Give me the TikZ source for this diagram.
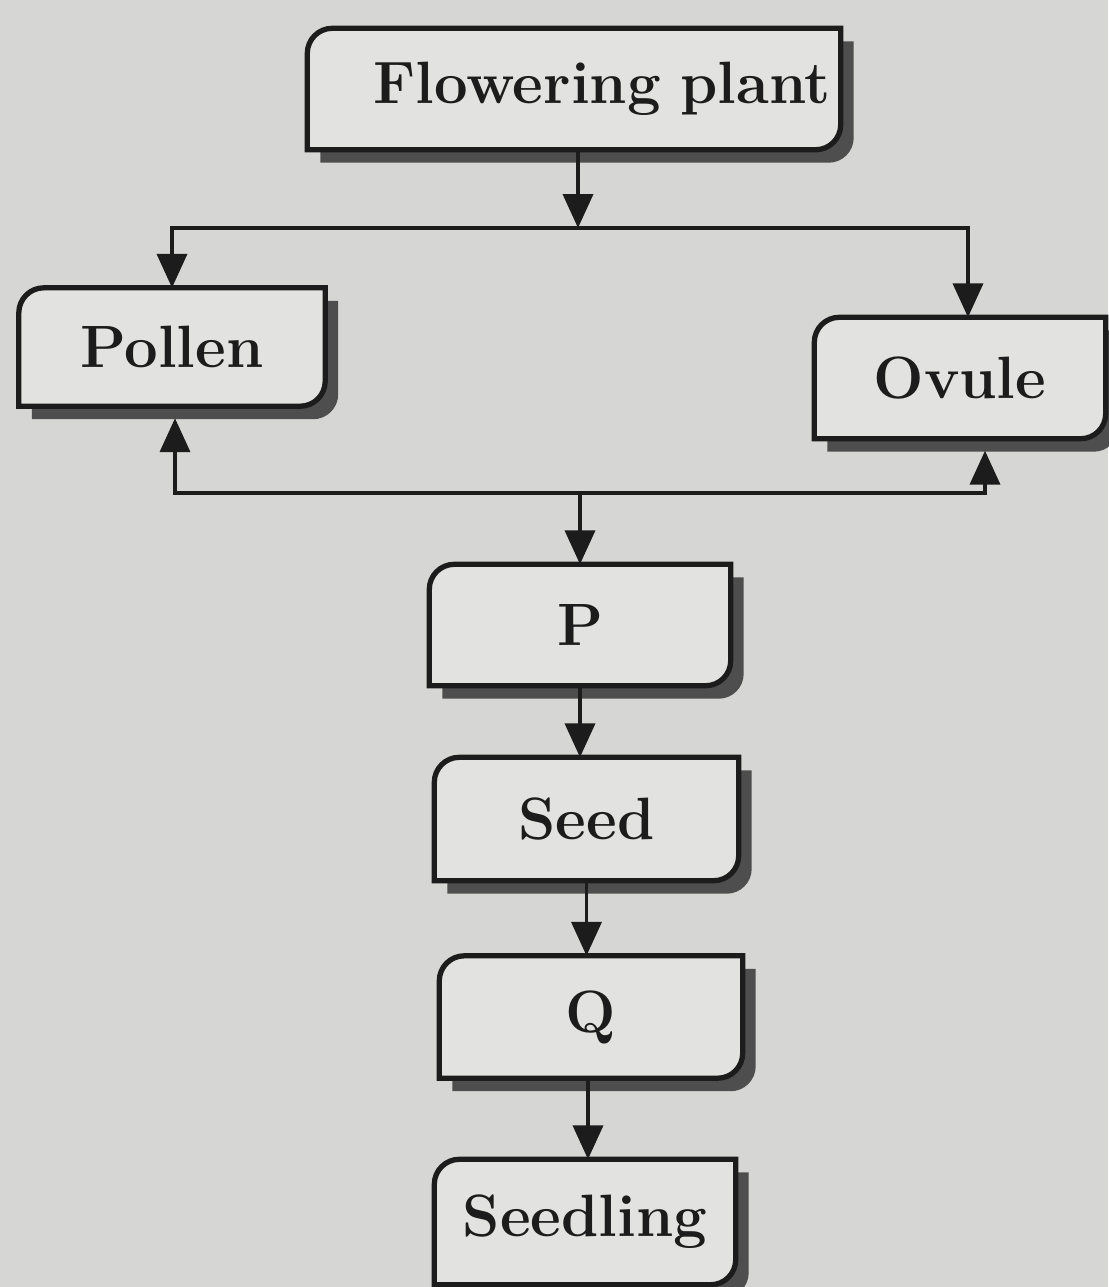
\documentclass[tikz,border=0pt]{standalone}
\usepackage{fontspec}
\usetikzlibrary{arrows.meta,backgrounds}
\definecolor{paper}{RGB}{214,214,212}
\definecolor{boxfill}{RGB}{226,226,224}
\definecolor{ink}{RGB}{28,28,28}
\definecolor{shadowgrey}{RGB}{78,78,78}
% box outline: rounded top left and bottom right corners, shifted by (#2,#3)
\newcommand\stageshape[3]{([shift={(#2,#3)}]#1.south west) -- ([shift={(#2,#3-0.25)}]#1.north west) arc[start angle=180,end angle=90,radius=0.25cm] -- ([shift={(#2,#3)}]#1.north east) -- ([shift={(#2,#3+0.25)}]#1.south east) arc[start angle=0,end angle=-90,radius=0.25cm] -- cycle}
\tikzset{
  stage/.style={inner sep=0pt, minimum height=1.2cm, text=ink, font=\fontsize{17}{20}\selectfont\bfseries},
  flow/.style={draw=ink, line width=1.1pt, -{Triangle[length=0.34cm,width=0.30cm]}},
  frame/.style={draw=ink, fill=boxfill, line width=1.5pt},
}
\begin{document}
\begin{tikzpicture}
\useasboundingbox (0,0) rectangle (11.08,-12.87);
% stages
\node[stage, minimum width=5.32cm, text width=5.14cm, align=right, inner xsep=0.09cm] (flower) at (5.74,-0.89) {Flowering plant};
\node[stage, minimum width=3.05cm, minimum height=1.17cm] (pollen) at (1.72,-3.47) {Pollen};
\node[stage, minimum width=2.90cm] (ovule) at (9.60,-3.78) {Ovule};
\node[stage, minimum width=3.00cm] (p) at (5.80,-6.25) {P};
\node[stage, minimum width=3.03cm, minimum height=1.22cm] (seed) at (5.865,-8.19) {Seed};
\node[stage, minimum width=3.02cm, minimum height=1.21cm] (q) at (5.91,-10.17) {Q};
\node[stage, minimum width=3.00cm, minimum height=1.24cm] (seedling) at (5.85,-12.22) {Seedling};
% frames and shadows
\begin{scope}[on background layer]
\fill[paper] (0,0) rectangle (11.08,-12.87);
\foreach \n in {flower,pollen,ovule,p,seed,q,seedling}{
  \fill[shadowgrey] \stageshape{\n}{0.13}{-0.13};
  \draw[frame] \stageshape{\n}{0}{0};
}
\end{scope}
% connectors
\coordinate (split) at (5.78,-2.28);
\coordinate (join) at (5.80,-4.93);
\draw[flow] (flower.south -| split) -- (split);
\draw[flow] (split) -| (pollen);
\draw[flow] (split) -| ([xshift=0.08cm]ovule.north);
\draw[flow, shorten >=0.12cm] (join) -| ([xshift=0.03cm]pollen.south);
\draw[flow, shorten >=0.12cm] (join) -| ([xshift=0.25cm]ovule.south);
\draw[flow] (join) -- (p);
\draw[flow] (p.south) -- (p.south |- seed.north);
\draw[flow] (seed.south) -- (seed.south |- q.north);
\draw[flow] ([xshift=-0.03cm]q.south) -- ([xshift=-0.03cm]q.south |- seedling.north);
\end{tikzpicture}
\end{document}
